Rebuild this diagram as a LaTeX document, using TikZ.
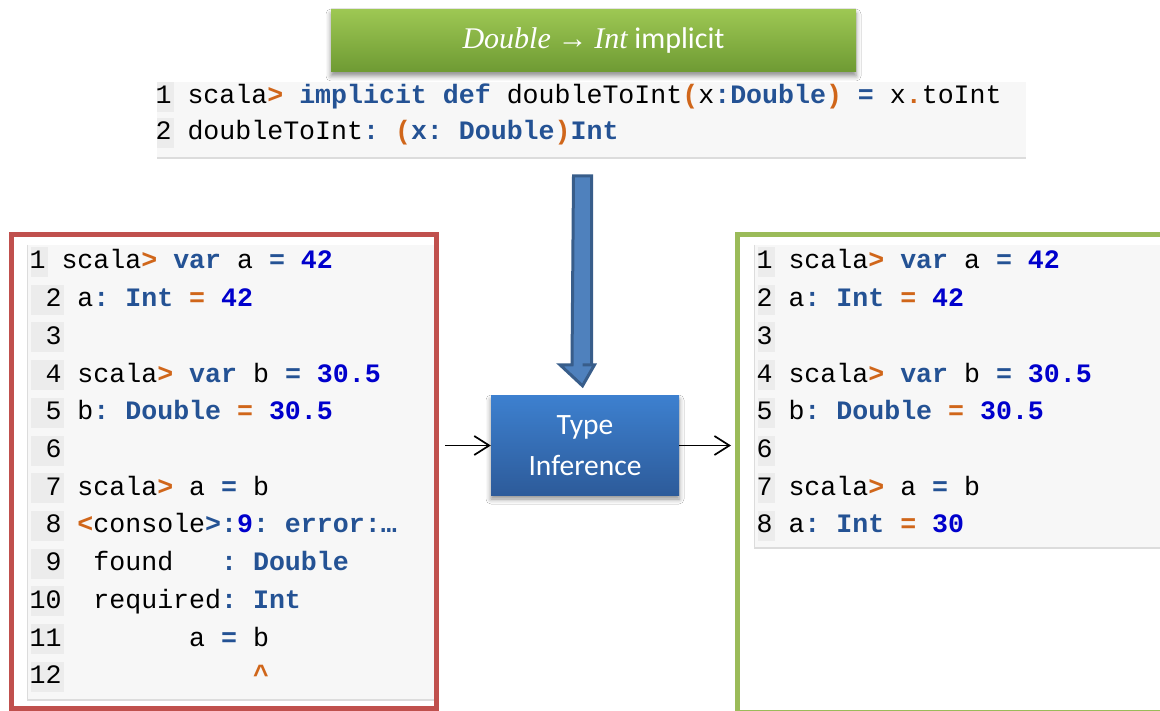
\documentclass[tikz,border=0pt]{standalone}
\usepackage{fontspec}
\setmainfont{Carlito}
\newfontfamily\codefont{Liberation Mono}
\newfontfamily\serifit{Liberation Serif}
\usetikzlibrary{arrows.meta,calc,shadows.blur}

% palette
\definecolor{kwblue}{HTML}{245294}
\definecolor{numblue}{HTML}{0000CC}
\definecolor{opor}{HTML}{D0661A}
\definecolor{codebg}{HTML}{F7F7F7}
\definecolor{numbg}{HTML}{ECECEC}
\definecolor{coderule}{HTML}{DCDCDC}
\definecolor{errred}{HTML}{C0504D}
\definecolor{okgreen}{HTML}{9BBB59}
\definecolor{hdtop}{HTML}{9DC753}
\definecolor{hdbot}{HTML}{6E9A33}
\definecolor{tibtop}{HTML}{3D80CF}
\definecolor{tibbot}{HTML}{2D5B9A}
\definecolor{arrfill}{HTML}{4F81BD}
\definecolor{arrline}{HTML}{385D8A}

% syntax colouring helpers
\newcommand\kw[1]{\textcolor{kwblue}{\bfseries #1}}
\newcommand\nm[1]{\textcolor{numblue}{\bfseries #1}}
\newcommand\op[1]{\textcolor{opor}{\bfseries #1}}

\begin{document}
\begin{tikzpicture}[x=1pt,y=-1pt,
  codeline/.style={anchor=base west,inner sep=0pt,outer sep=0pt,
    font=\codefont\fontsize{26.6}{30}\selectfont\frenchspacing},
  numcell/.style={fill=numbg,draw=none},
  frame/.style={line width=5pt,inner sep=0pt,outer sep=0pt,anchor=north west},
  header/.style={minimum width=525pt,minimum height=62pt,inner sep=0pt,
    top color=hdtop,bottom color=hdbot,text=white,
    font=\fontsize{30}{34}\selectfont,
    blur shadow={shadow xshift=0pt,shadow yshift=-4pt,shadow blur radius=5pt,shadow opacity=45}},
  process/.style={minimum width=188pt,minimum height=99pt,inner sep=0pt,
    top color=tibtop,bottom color=tibbot,text=white,align=center,
    font=\fontsize{29.5}{41}\selectfont,
    blur shadow={shadow xshift=0pt,shadow yshift=-4pt,shadow blur radius=5pt,shadow opacity=45}},
  conn/.style={line width=1.7pt,-{Straight Barb[length=15pt,width=19pt,line width=1.7pt]}},
  bigarrow/.style={fill=arrfill,draw=arrline,line width=3pt,line join=miter}
]
\useasboundingbox (0,0) rectangle (1160,711);
\clip (0,0) rectangle (1160,711);
\fill[white] (0,0) rectangle (1160,711);

% ---- implicit conversion definition ----
\node[fill=codebg,minimum width=869pt,minimum height=76pt,inner sep=0pt,
  outer sep=0pt,anchor=north west] (topcode) at (157,82) {};
\draw[coderule,line width=1.2pt] (topcode.south west) -- (topcode.south east);
\fill[numbg] (157,82) rectangle (174,112);
\fill[numbg] (157,118) rectangle (174,148);
\node[codeline] (t1) at (155.6,104) {1 scala\op{>} \kw{implicit def} doubleToInt\op{(}x\kw{:Double}\op{)} \kw{=} x\op{.}toInt};
\node[codeline] (t2) at (155.6,140) {2 doubleToInt\kw{:} \op{(}\kw{x: Double}\op{)}\kw{Int}};

\node[header] (hdr) at (593.5,41) {{\serifit\itshape Double} {\serifit →} {\serifit\itshape Int} implicit};

% ---- session without the conversion ----
\node[frame,draw=errred,minimum width=425pt,minimum height=473pt] (lbox) at (11,235) {};
\fill[codebg] (27,245) rectangle (433.5,700);
\draw[coderule,line width=1.5pt] (27.7,245) -- (27.7,700) -- (433.5,700);
\fill[numbg] (31,247) rectangle (48,277);
\foreach \b in {306.7,344.4,382.1,419.8,457.5,495.2,532.9,570.6,608.3,646,683.7}
  \fill[numbg] (31,\b-22) rectangle (64,\b+8);
\node[codeline] (l1)  at (29.6,269)   {1 scala\op{>} \kw{var} a \kw{=} \nm{42}};
\node[codeline] (l2)  at (29.6,306.7) {~2 a\kw{:} \kw{Int} \op{=} \nm{42}};
\node[codeline] (l3)  at (29.6,344.4) {~3};
\node[codeline] (l4)  at (29.6,382.1) {~4 scala\op{>} \kw{var} b \kw{=} \nm{30.5}};
\node[codeline] (l5)  at (29.6,419.8) {~5 b\kw{:} \kw{Double} \op{=} \nm{30.5}};
\node[codeline] (l6)  at (29.6,457.5) {~6};
\node[codeline] (l7)  at (29.6,495.2) {~7 scala\op{>} a \kw{=} b};
\node[codeline] (l8)  at (29.6,532.9) {~8 \op{<}console\kw{>:}\nm{9}\kw{: error:…}};
\node[codeline] (l9)  at (29.6,570.6) {~9~~found~~~\kw{:} \kw{Double}};
\node[codeline] (l10) at (29.6,608.3) {10~~required\kw{:} \kw{Int}};
\node[codeline] (l11) at (29.6,646)   {11~~~~~~~~a \kw{=} b};
\node[codeline] (l12) at (29.6,683.7) {12~~~~~~~~~~~~\op{\textasciicircum}};

% ---- session with the conversion in scope ----
\node[frame,draw=okgreen,minimum width=440pt,minimum height=477pt] (rbox) at (737,235) {};
\fill[codebg] (754,245) rectangle (1170,548);
\draw[coderule,line width=1.5pt] (754.7,245) -- (754.7,548) -- (1170,548);
\foreach \b in {269,306.7,344.4,382.1,419.8,457.5,495.2,532.9}
  \fill[numbg] (758,\b-22) rectangle (775,\b+8);
\node[codeline] (r1) at (756.6,269)   {1 scala\op{>} \kw{var} a \kw{=} \nm{42}};
\node[codeline] (r2) at (756.6,306.7) {2 a\kw{:} \kw{Int} \op{=} \nm{42}};
\node[codeline] (r3) at (756.6,344.4) {3};
\node[codeline] (r4) at (756.6,382.1) {4 scala\op{>} \kw{var} b \kw{=} \nm{30.5}};
\node[codeline] (r5) at (756.6,419.8) {5 b\kw{:} \kw{Double} \op{=} \nm{30.5}};
\node[codeline] (r6) at (756.6,457.5) {6};
\node[codeline] (r7) at (756.6,495.2) {7 scala\op{>} a \kw{=} b};
\node[codeline] (r8) at (756.6,532.9) {8 a\kw{:} \kw{Int} \op{=} \nm{30}};

% ---- type inference step ----
\node[process] (tinf) at (585,445.5) {Type\\Inference};

\coordinate (arrtop) at (582.5,176);
\draw[bigarrow] (arrtop) ++(-9,0) -- ++(18,0) |- ($(tinf.north)+(-2.5,-31)$) -- ++(12,0)
  -- ($(tinf.north)+(-2.5,-10)$) -- ($(tinf.north)+(-25,-31)$) -- ++(12,0) -- cycle;

\draw[conn,shorten <=9pt] (lbox.east |- tinf.west) -- (tinf.west);
\draw[conn,shorten >=6pt] (tinf.east) -- (rbox.west |- tinf.east);
\end{tikzpicture}
\end{document}
